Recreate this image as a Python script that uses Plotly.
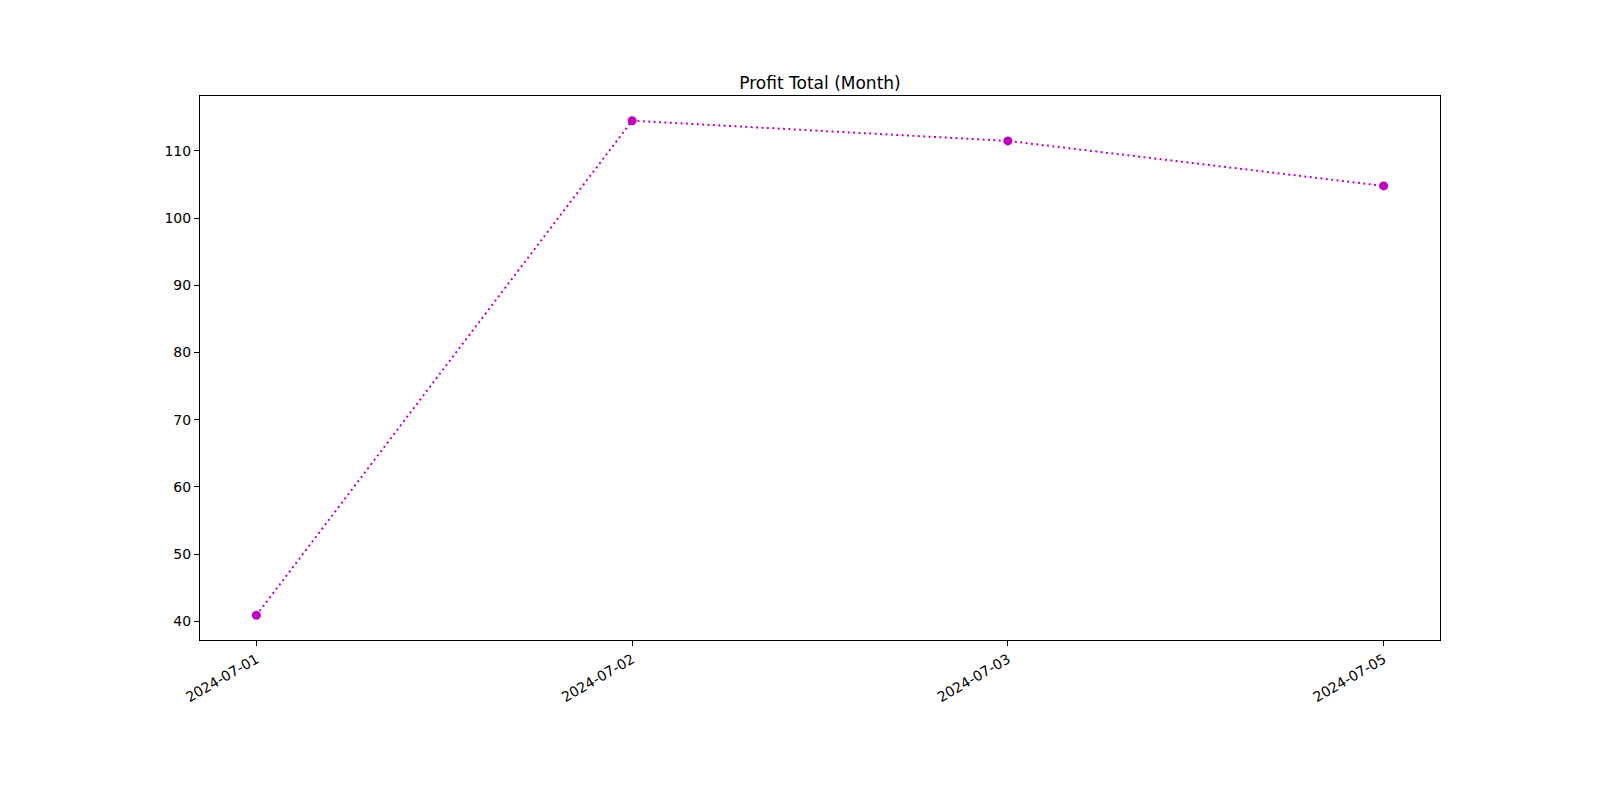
import plotly.graph_objects as go

# data
dates = ["2024-07-01", "2024-07-02", "2024-07-03", "2024-07-05"]
profit = [40.9, 114.5, 111.5, 104.8]
y_ticks = [40, 50, 60, 70, 80, 90, 100, 110]

fig = go.Figure()
fig.add_trace(go.Scatter(
    x=dates, y=profit,
    mode="lines+markers",
    line=dict(color="#bf00bf", width=2, dash="2px,3.4px"),
    marker=dict(color="#bf00bf", size=9),
    showlegend=False))

# page body has an 8px margin, so the figure is a bit smaller than the window
fig.update_layout(
    width=1584, height=784,
    paper_bgcolor="white", plot_bgcolor="white",
    margin=dict(l=192, r=152, t=88, b=152),
    font=dict(family="DejaVu Sans", size=14, color="black"),
    title=dict(text="Profit Total (Month)", x=(192 + 620) / 1584, xanchor="center",
               y=1 - 75 / 784, yanchor="middle", font=dict(size=17)))

fig.update_xaxes(type="category", range=[-0.15, 3.15],
                 showline=True, linecolor="black", linewidth=1, mirror=True,
                 showgrid=False, zeroline=False,
                 ticks="outside", ticklen=5, tickcolor="black",
                 tickangle=-30)
fig.update_yaxes(range=[37.22, 118.18], tickvals=y_ticks,
                 showline=True, linecolor="black", linewidth=1, mirror=True,
                 showgrid=False, zeroline=False,
                 ticks="outside", ticklen=5, tickcolor="black")

fig.write_html("out.html")
